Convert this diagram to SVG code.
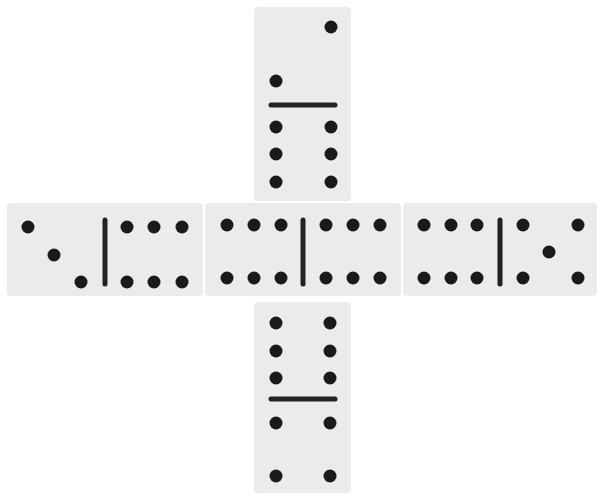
<svg xmlns="http://www.w3.org/2000/svg" width="597" height="497" viewBox="0 0 597 497">
<style>
.tile{fill:#ebebeb;}
.pip{fill:#1a1a1a;}
.bar{stroke:#222;stroke-width:5;stroke-linecap:round;}
</style>
<defs><circle id="p" r="6.5" class="pip"/></defs>
<rect width="597" height="497" fill="#ffffff"/>
<g id="top">
<rect class="tile" x="254" y="7" width="97" height="194" rx="4"/>
<use href="#p" x="331" y="27"/>
<use href="#p" x="276" y="81"/>
<line class="bar" x1="271" y1="105" x2="335" y2="105"/>
<use href="#p" x="276" y="127"/><use href="#p" x="331" y="127"/>
<use href="#p" x="276" y="154"/><use href="#p" x="331" y="154"/>
<use href="#p" x="276" y="182"/><use href="#p" x="331" y="182"/>
</g>
<g id="left">
<rect class="tile" x="7" y="203" width="196" height="93" rx="4"/>
<use href="#p" x="28" y="227"/>
<use href="#p" x="54" y="255"/>
<use href="#p" x="81" y="282"/>
<line class="bar" x1="105" y1="220" x2="105" y2="284"/>
<use href="#p" x="127" y="227"/><use href="#p" x="154" y="227"/><use href="#p" x="182" y="227"/>
<use href="#p" x="127" y="282"/><use href="#p" x="154" y="282"/><use href="#p" x="182" y="282"/>
</g>
<g id="middle">
<rect class="tile" x="205" y="203" width="196" height="93" rx="4"/>
<use href="#p" x="227" y="225"/><use href="#p" x="254" y="225"/><use href="#p" x="281" y="225"/>
<use href="#p" x="227" y="278"/><use href="#p" x="254" y="278"/><use href="#p" x="281" y="278"/>
<line class="bar" x1="303" y1="220" x2="303" y2="284"/>
<use href="#p" x="326" y="225"/><use href="#p" x="353" y="225"/><use href="#p" x="380" y="225"/>
<use href="#p" x="326" y="278"/><use href="#p" x="353" y="278"/><use href="#p" x="380" y="278"/>
</g>
<g id="right">
<rect class="tile" x="403" y="203" width="194" height="93" rx="4"/>
<use href="#p" x="424" y="225"/><use href="#p" x="451" y="225"/><use href="#p" x="477" y="225"/>
<use href="#p" x="424" y="278"/><use href="#p" x="451" y="278"/><use href="#p" x="477" y="278"/>
<line class="bar" x1="500" y1="220" x2="500" y2="284"/>
<use href="#p" x="523" y="225"/><use href="#p" x="578" y="225"/>
<use href="#p" x="549" y="252"/>
<use href="#p" x="523" y="278"/><use href="#p" x="578" y="278"/>
</g>
<g id="bottom">
<rect class="tile" x="254" y="302" width="97" height="191" rx="4"/>
<use href="#p" x="276" y="323"/><use href="#p" x="330" y="323"/>
<use href="#p" x="276" y="351"/><use href="#p" x="330" y="351"/>
<use href="#p" x="276" y="378"/><use href="#p" x="330" y="378"/>
<line class="bar" x1="271" y1="399" x2="335" y2="399"/>
<use href="#p" x="276" y="423"/><use href="#p" x="330" y="423"/>
<use href="#p" x="276" y="476"/><use href="#p" x="330" y="476"/>
</g>
<g id="connectors"></g>
</svg>
